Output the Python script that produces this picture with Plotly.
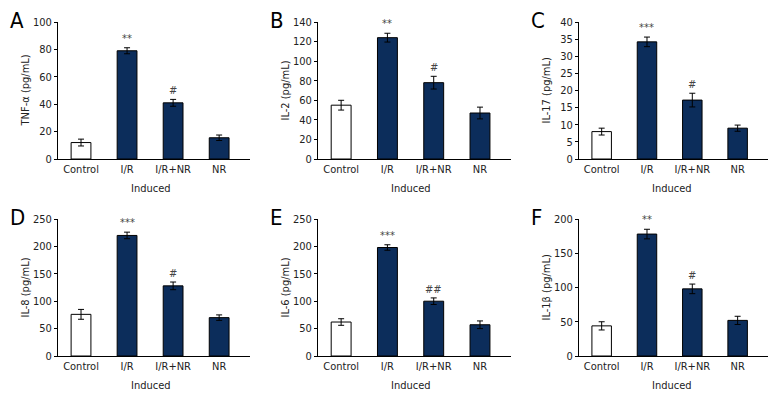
import plotly.graph_objects as go

categories = ["Control", "I/R", "I/R+NR", "NR"]
x_title = "Induced"

panel_letters = ["A", "B", "C", "D", "E", "F"]
y_titles = ["TNF-α (pg/mL)", "IL-2 (pg/mL)", "IL-17 (pg/mL)",
            "IL-8 (pg/mL)", "IL-6 (pg/mL)", "IL-1β (pg/mL)"]

tnf_values = [12, 79, 41, 15.5]
tnf_errors = [2.5, 2.2, 2.5, 2.0]
il2_values = [55, 124, 78, 47]
il2_errors = [5, 4.5, 6.5, 6]
il17_values = [8, 34.2, 17.2, 9]
il17_errors = [1.0, 1.4, 2.0, 0.9]
il8_values = [76, 220, 128, 70]
il8_errors = [9, 6, 7, 5]
il6_values = [62, 198, 100, 57]
il6_errors = [6, 5, 6, 7]
il1b_values = [44, 178, 98, 52]
il1b_errors = [6, 7, 7, 6]

y_max = [100, 140, 40, 250, 250, 200]
y_step = [20, 20, 5, 50, 50, 50]

sig_ir = ["**", "**", "***", "***", "***", "**"]
sig_irnr = ["#", "#", "#", "#", "##", "#"]

values = [tnf_values, il2_values, il17_values, il8_values, il6_values, il1b_values]
errors = [tnf_errors, il2_errors, il17_errors, il8_errors, il6_errors, il1b_errors]

W, H = 780, 408
FONT = "DejaVu Sans Condensed, Liberation Sans Narrow, Arial Narrow, sans-serif"
NAVY = "#0c2d5b"
TXT = "#222"

# pixel layout (left axis x, right end x, top y, bottom y)
cols = [(58, 250), (318, 511), (579, 768)]
rows = [(22, 159), (219, 356)]

fig = go.Figure()
annotations = []
layout_axes = {}
for i in range(6):
    r, c = divmod(i, 3)
    x0, x1 = cols[c]
    yt, yb = rows[r]
    xa = "x" if i == 0 else f"x{i+1}"
    ya = "y" if i == 0 else f"y{i+1}"
    colors = ["white", NAVY, NAVY, NAVY]
    fig.add_trace(go.Bar(
        x=categories, y=values[i], xaxis=xa, yaxis=ya,
        marker=dict(color=colors, line=dict(color="black", width=1)),
        width=0.43,
        error_y=dict(type="data", array=errors[i], color="black", thickness=1, width=3),
        showlegend=False,
    ))
    xkey = "xaxis" if i == 0 else f"xaxis{i+1}"
    ykey = "yaxis" if i == 0 else f"yaxis{i+1}"
    layout_axes[xkey] = dict(
        domain=[x0 / W, x1 / W], anchor=ya, range=[-0.5, 3.67],
        showline=True, linecolor="black", linewidth=1, ticks="", showgrid=False,
        zeroline=False, tickfont=dict(family=FONT, size=11, color=TXT),
        automargin=False, fixedrange=True,
    )
    layout_axes[ykey] = dict(
        domain=[(H - yb) / H, (H - yt) / H], anchor=xa, range=[0, y_max[i]],
        tick0=0, dtick=y_step[i],
        showline=True, linecolor="black", linewidth=1, ticks="outside", ticklen=3,
        tickcolor="black", showgrid=False, zeroline=False,
        tickfont=dict(family=FONT, size=11, color=TXT),
        automargin=False, fixedrange=True,
    )
    # x-axis title
    annotations.append(dict(
        text=x_title, xref="paper", yref="paper",
        x=(x0 + 24 + 69) / W, y=(H - yb - 29) / H, xanchor="center", yanchor="middle",
        showarrow=False, font=dict(family=FONT, size=11, color=TXT),
    ))
    # y-axis title
    annotations.append(dict(
        text=y_titles[i], xref="paper", yref="paper", textangle=-90,
        x=(x0 - 33) / W, y=(H - (yt + yb) / 2) / H, xanchor="center", yanchor="middle",
        showarrow=False, font=dict(family=FONT, size=11, color=TXT),
    ))
    # panel letter
    annotations.append(dict(
        text=panel_letters[i], xref="paper", yref="paper",
        x=(x0 - 50) / W, y=(H - yt + 16) / H, xanchor="left", yanchor="top",
        showarrow=False, font=dict(family=FONT, size=22, color="black"),
    ))
    # significance markers
    annotations.append(dict(
        text=sig_ir[i], xref=xa, yref=ya, x=categories[1],
        y=values[i][1] + errors[i][1], yanchor="bottom", yshift=1,
        showarrow=False, font=dict(family=FONT, size=11, color="#444"),
    ))
    annotations.append(dict(
        text=sig_irnr[i], xref=xa, yref=ya, x=categories[2],
        y=values[i][2] + errors[i][2], yanchor="bottom", yshift=0,
        showarrow=False, font=dict(family=FONT, size=11, color="#444"),
    ))

fig.update_layout(
    width=W, height=H, margin=dict(l=0, r=0, t=0, b=0),
    paper_bgcolor="white", plot_bgcolor="white",
    annotations=annotations, bargap=0.5,
    **layout_axes,
)
fig.write_html("out.html", config={"displayModeBar": False},
               post_script="document.body.style.margin='0';")
